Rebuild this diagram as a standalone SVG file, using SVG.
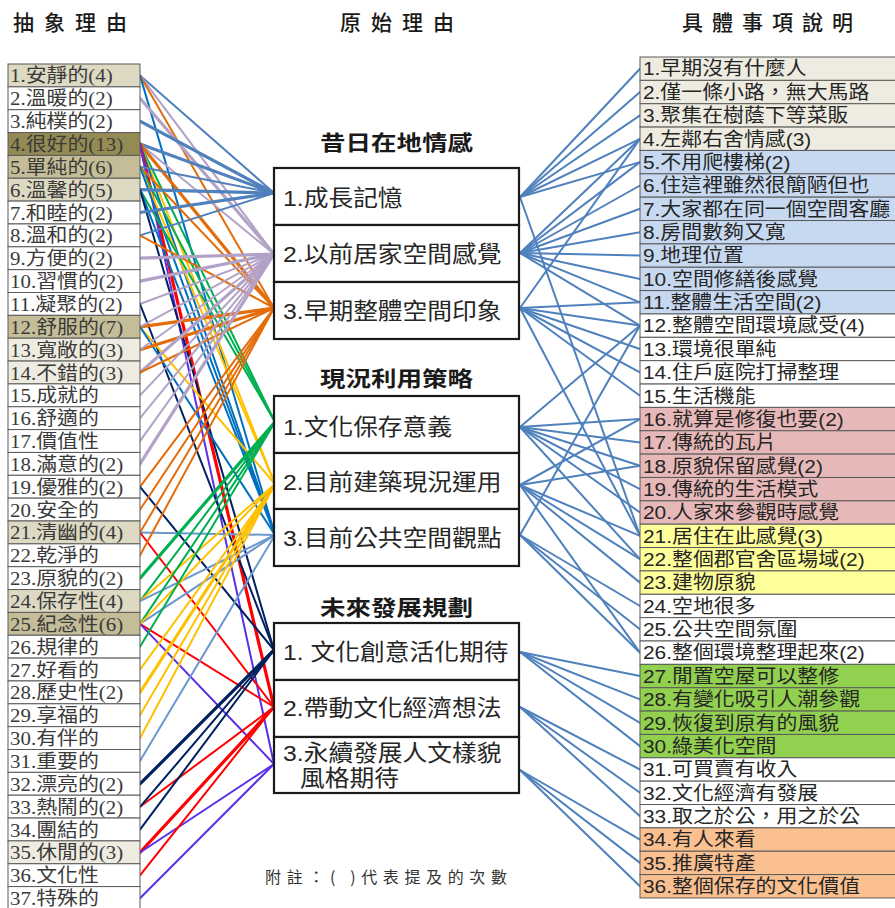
<svg xmlns="http://www.w3.org/2000/svg" width="895" height="908" viewBox="0 0 895 908">
<style>
.bg{fill:#fff}
#connectors line{stroke-width:2;fill:none;stroke-linecap:round}
#connectors line.t{stroke-width:3.2}
.a{stroke:#4F81BD}.b{stroke:#B3A2C7}.c{stroke:#E46C0A}.d{stroke:#00B050}.e{stroke:#FFC000}
.f{stroke:#0070C0}.f2{stroke:#6A97CF}.g{stroke:#002060}.h{stroke:#FF0000}.i{stroke:#5B2FE8}.r{stroke:#4F81BD}
.cell{stroke:#5a5a5a;stroke-width:1}
.lt{font-family:"Liberation Serif","Noto Sans CJK TC",serif;font-size:19px;fill:#3a3a3a}
.rt{font-family:"Liberation Sans","Noto Sans CJK TC",sans-serif;font-size:19px;fill:#262626}
.mt{font-family:"Liberation Sans","Noto Sans CJK TC",sans-serif;font-size:22.5px;fill:#262626}
.box{fill:#fff;stroke:#1a1a1a;stroke-width:2.2}
.hd{font-family:"Noto Sans CJK TC",sans-serif;font-size:21px;font-weight:500;fill:#1a1a1a}
.gt{font-family:"Noto Sans CJK TC",sans-serif;font-size:21px;font-weight:bold;fill:#1a1a1a}
.note{font-family:"Noto Sans CJK TC",sans-serif;font-size:16px;fill:#333}
.w{fill:#FFFFFF}.l1{fill:#DDD9C3}.l2{fill:#C4BD97}.l3{fill:#948A54}.l0{fill:#EEECE1}
.p1{fill:#EEECE1}.p2{fill:#C6D9F1}.p3{fill:#E6B9B8}.p4{fill:#FFFF99}.p5{fill:#92D050}.p6{fill:#FAC090}
</style>
<rect class="bg" x="0" y="0" width="895" height="908"/>

<g id="headings">
<text class="hd" x="13" y="30" textLength="114" lengthAdjust="spacing">抽象理由</text>
<text class="hd" x="340" y="30" textLength="114" lengthAdjust="spacing">原始理由</text>
<text class="hd" x="682" y="30" textLength="171" lengthAdjust="spacing">具體事項說明</text>
<text class="gt" x="320" y="150" textLength="153" lengthAdjust="spacingAndGlyphs">昔日在地情感</text>
<text class="gt" x="320" y="386" textLength="153" lengthAdjust="spacingAndGlyphs">現況利用策略</text>
<text class="gt" x="320" y="615" textLength="153" lengthAdjust="spacingAndGlyphs">未來發展規劃</text>
<text class="note" x="265" y="883" textLength="242" lengthAdjust="spacing">附註：( )代表提及的次數</text>
</g>

<g id="connectors">
<line class="a" x1="140" y1="75.4" x2="274" y2="193"/>
<line class="b" x1="140" y1="75.4" x2="274" y2="254"/>
<line class="c" x1="140" y1="75.4" x2="274" y2="308"/>
<line class="f" x1="140" y1="75.4" x2="275" y2="535"/>
<line class="b t" x1="140" y1="98.3" x2="274" y2="254"/>
<line class="a t" x1="140" y1="121.1" x2="274" y2="193"/>
<line class="a t" x1="140" y1="144" x2="274" y2="193"/>
<line class="b" x1="140" y1="144" x2="274" y2="254"/>
<line class="c t" x1="140" y1="144" x2="274" y2="308"/>
<line class="d" x1="140" y1="144" x2="275" y2="422"/>
<line class="e" x1="140" y1="144" x2="275" y2="484"/>
<line class="f" x1="140" y1="144" x2="275" y2="535"/>
<line class="h t" x1="140" y1="144" x2="274" y2="707"/>
<line class="i" x1="140" y1="144" x2="274" y2="764"/>
<line class="a" x1="140" y1="166.8" x2="274" y2="193"/>
<line class="c" x1="140" y1="166.8" x2="274" y2="308"/>
<line class="d" x1="140" y1="166.8" x2="275" y2="422"/>
<line class="e" x1="140" y1="166.8" x2="275" y2="484"/>
<line class="f" x1="140" y1="166.8" x2="275" y2="535"/>
<line class="a t" x1="140" y1="189.7" x2="274" y2="193"/>
<line class="d" x1="140" y1="189.7" x2="275" y2="422"/>
<line class="f" x1="140" y1="189.7" x2="275" y2="535"/>
<line class="g" x1="140" y1="189.7" x2="274" y2="650"/>
<line class="a t" x1="140" y1="212.5" x2="274" y2="193"/>
<line class="a" x1="140" y1="235.4" x2="274" y2="193"/>
<line class="c" x1="140" y1="235.4" x2="274" y2="308"/>
<line class="b t" x1="140" y1="258.2" x2="274" y2="254"/>
<line class="b t" x1="140" y1="281.1" x2="274" y2="254"/>
<line class="b" x1="140" y1="304" x2="274" y2="254"/>
<line class="g" x1="140" y1="304" x2="274" y2="650"/>
<line class="c t" x1="140" y1="326.8" x2="274" y2="308"/>
<line class="b" x1="140" y1="326.8" x2="274" y2="254"/>
<line class="e" x1="140" y1="326.8" x2="275" y2="484"/>
<line class="f" x1="140" y1="326.8" x2="275" y2="535"/>
<line class="c t" x1="140" y1="349.7" x2="274" y2="308"/>
<line class="b" x1="140" y1="349.7" x2="274" y2="254"/>
<line class="b t" x1="140" y1="372.5" x2="274" y2="254"/>
<line class="c" x1="140" y1="372.5" x2="274" y2="308"/>
<line class="b" x1="140" y1="395.4" x2="274" y2="254"/>
<line class="b" x1="140" y1="418.2" x2="274" y2="254"/>
<line class="b" x1="140" y1="441.1" x2="274" y2="254"/>
<line class="b t" x1="140" y1="463.9" x2="274" y2="254"/>
<line class="c" x1="140" y1="486.8" x2="274" y2="308"/>
<line class="g" x1="140" y1="486.8" x2="274" y2="650"/>
<line class="c" x1="140" y1="509.7" x2="274" y2="308"/>
<line class="f2" x1="140" y1="532.5" x2="275" y2="535"/>
<line class="h" x1="140" y1="532.5" x2="274" y2="707"/>
<line class="c" x1="140" y1="532.5" x2="274" y2="308"/>
<line class="c" x1="140" y1="555.4" x2="274" y2="308"/>
<line class="d t" x1="140" y1="578.2" x2="275" y2="422"/>
<line class="d" x1="140" y1="601.1" x2="275" y2="422"/>
<line class="e" x1="140" y1="601.1" x2="275" y2="484"/>
<line class="f2" x1="140" y1="601.1" x2="275" y2="535"/>
<line class="f2" x1="140" y1="623.9" x2="275" y2="535"/>
<line class="d" x1="140" y1="623.9" x2="275" y2="422"/>
<line class="h" x1="140" y1="623.9" x2="274" y2="707"/>
<line class="i" x1="140" y1="623.9" x2="274" y2="764"/>
<line class="e" x1="140" y1="623.9" x2="275" y2="484"/>
<line class="d" x1="140" y1="646.8" x2="275" y2="422"/>
<line class="e" x1="140" y1="669.6" x2="275" y2="484"/>
<line class="e t" x1="140" y1="692.5" x2="275" y2="484"/>
<line class="e" x1="140" y1="715.3" x2="275" y2="484"/>
<line class="e" x1="140" y1="738.2" x2="275" y2="484"/>
<line class="f2" x1="140" y1="761.1" x2="275" y2="535"/>
<line class="g t" x1="140" y1="783.9" x2="274" y2="650"/>
<line class="h" x1="140" y1="806.8" x2="274" y2="707"/>
<line class="g" x1="140" y1="806.8" x2="274" y2="650"/>
<line class="g" x1="140" y1="829.6" x2="274" y2="650"/>
<line class="h t" x1="140" y1="852.5" x2="274" y2="707"/>
<line class="i" x1="140" y1="852.5" x2="274" y2="764"/>
<line class="h" x1="140" y1="875.3" x2="274" y2="707"/>
<line class="i" x1="140" y1="898.2" x2="274" y2="764"/>

<line class="r" x1="520" y1="197" x2="640" y2="68.7"/>
<line class="r" x1="520" y1="197" x2="640" y2="92"/>
<line class="r" x1="520" y1="197" x2="640" y2="115.4"/>
<line class="r" x1="520" y1="197" x2="640" y2="138.8"/>
<line class="r" x1="520" y1="197" x2="640" y2="162.1"/>
<line class="r" x1="520" y1="197" x2="640" y2="535.9"/>
<line class="r" x1="520" y1="253" x2="640" y2="138.8"/>
<line class="r" x1="520" y1="253" x2="640" y2="162.1"/>
<line class="r" x1="520" y1="253" x2="640" y2="185.5"/>
<line class="r" x1="520" y1="253" x2="640" y2="208.8"/>
<line class="r" x1="520" y1="253" x2="640" y2="232.2"/>
<line class="r" x1="520" y1="253" x2="640" y2="255.6"/>
<line class="r" x1="520" y1="253" x2="640" y2="278.9"/>
<line class="r" x1="520" y1="253" x2="640" y2="302.3"/>
<line class="r" x1="520" y1="253" x2="640" y2="325.6"/>
<line class="r" x1="520" y1="308" x2="640" y2="138.8"/>
<line class="r" x1="520" y1="308" x2="640" y2="302.3"/>
<line class="r" x1="520" y1="308" x2="640" y2="325.6"/>
<line class="r" x1="520" y1="308" x2="640" y2="349"/>
<line class="r" x1="520" y1="308" x2="640" y2="372.4"/>
<line class="r" x1="520" y1="308" x2="640" y2="395.7"/>
<line class="r" x1="520" y1="308" x2="640" y2="535.9"/>
<line class="r" x1="520" y1="427" x2="640" y2="325.6"/>
<line class="r" x1="520" y1="427" x2="640" y2="419.1"/>
<line class="r" x1="520" y1="427" x2="640" y2="442.4"/>
<line class="r" x1="520" y1="427" x2="640" y2="465.8"/>
<line class="r" x1="520" y1="427" x2="640" y2="489.2"/>
<line class="r" x1="520" y1="427" x2="640" y2="512.5"/>
<line class="r" x1="520" y1="427" x2="640" y2="559.2"/>
<line class="r" x1="520" y1="485" x2="640" y2="419.1"/>
<line class="r" x1="520" y1="485" x2="640" y2="465.8"/>
<line class="r" x1="520" y1="485" x2="640" y2="535.9"/>
<line class="r" x1="520" y1="485" x2="640" y2="559.2"/>
<line class="r" x1="520" y1="485" x2="640" y2="582.6"/>
<line class="r" x1="520" y1="485" x2="640" y2="652.7"/>
<line class="r" x1="520" y1="535" x2="640" y2="325.6"/>
<line class="r" x1="520" y1="535" x2="640" y2="606"/>
<line class="r" x1="520" y1="535" x2="640" y2="629.3"/>
<line class="r" x1="520" y1="535" x2="640" y2="652.7"/>
<line class="r" x1="520" y1="652" x2="640" y2="676"/>
<line class="r" x1="520" y1="652" x2="640" y2="699.4"/>
<line class="r" x1="520" y1="652" x2="640" y2="722.8"/>
<line class="r" x1="520" y1="652" x2="640" y2="746.1"/>
<line class="r" x1="520" y1="707" x2="640" y2="769.5"/>
<line class="r" x1="520" y1="707" x2="640" y2="792.8"/>
<line class="r" x1="520" y1="707" x2="640" y2="816.2"/>
<line class="r" x1="520" y1="770" x2="640" y2="839.6"/>
<line class="r" x1="520" y1="770" x2="640" y2="862.9"/>
<line class="r" x1="520" y1="770" x2="640" y2="886.3"/>
</g>

<g id="abstract">
<g id="a1"><rect class="cell l1" x="8" y="64" width="132" height="22.85"/><text class="lt" x="9.1" y="82.5" transform="scale(1.1,1)">1.安靜的(4)</text></g>
<g id="a2"><rect class="cell w" x="8" y="86.85" width="132" height="22.85"/><text class="lt" x="9.1" y="105.35" transform="scale(1.1,1)">2.溫暖的(2)</text></g>
<g id="a3"><rect class="cell w" x="8" y="109.7" width="132" height="22.85"/><text class="lt" x="9.1" y="128.2" transform="scale(1.1,1)">3.純樸的(2)</text></g>
<g id="a4"><rect class="cell l3" x="8" y="132.55" width="132" height="22.85"/><text class="lt" x="9.1" y="151.05" transform="scale(1.1,1)">4.很好的(13)</text></g>
<g id="a5"><rect class="cell l2" x="8" y="155.4" width="132" height="22.85"/><text class="lt" x="9.1" y="173.9" transform="scale(1.1,1)">5.單純的(6)</text></g>
<g id="a6"><rect class="cell l1" x="8" y="178.25" width="132" height="22.85"/><text class="lt" x="9.1" y="196.75" transform="scale(1.1,1)">6.溫馨的(5)</text></g>
<g id="a7"><rect class="cell w" x="8" y="201.1" width="132" height="22.85"/><text class="lt" x="9.1" y="219.6" transform="scale(1.1,1)">7.和睦的(2)</text></g>
<g id="a8"><rect class="cell w" x="8" y="223.95" width="132" height="22.85"/><text class="lt" x="9.1" y="242.45" transform="scale(1.1,1)">8.溫和的(2)</text></g>
<g id="a9"><rect class="cell w" x="8" y="246.8" width="132" height="22.85"/><text class="lt" x="9.1" y="265.3" transform="scale(1.1,1)">9.方便的(2)</text></g>
<g id="a10"><rect class="cell w" x="8" y="269.65" width="132" height="22.85"/><text class="lt" x="9.1" y="288.15" transform="scale(1.1,1)">10.習慣的(2)</text></g>
<g id="a11"><rect class="cell w" x="8" y="292.5" width="132" height="22.85"/><text class="lt" x="9.1" y="311" transform="scale(1.1,1)">11.凝聚的(2)</text></g>
<g id="a12"><rect class="cell l2" x="8" y="315.35" width="132" height="22.85"/><text class="lt" x="9.1" y="333.85" transform="scale(1.1,1)">12.舒服的(7)</text></g>
<g id="a13"><rect class="cell l0" x="8" y="338.2" width="132" height="22.85"/><text class="lt" x="9.1" y="356.7" transform="scale(1.1,1)">13.寬敞的(3)</text></g>
<g id="a14"><rect class="cell l0" x="8" y="361.05" width="132" height="22.85"/><text class="lt" x="9.1" y="379.55" transform="scale(1.1,1)">14.不錯的(3)</text></g>
<g id="a15"><rect class="cell w" x="8" y="383.9" width="132" height="22.85"/><text class="lt" x="9.1" y="402.4" transform="scale(1.1,1)">15.成就的</text></g>
<g id="a16"><rect class="cell w" x="8" y="406.75" width="132" height="22.85"/><text class="lt" x="9.1" y="425.25" transform="scale(1.1,1)">16.舒適的</text></g>
<g id="a17"><rect class="cell w" x="8" y="429.6" width="132" height="22.85"/><text class="lt" x="9.1" y="448.1" transform="scale(1.1,1)">17.價值性</text></g>
<g id="a18"><rect class="cell w" x="8" y="452.45" width="132" height="22.85"/><text class="lt" x="9.1" y="470.95" transform="scale(1.1,1)">18.滿意的(2)</text></g>
<g id="a19"><rect class="cell w" x="8" y="475.3" width="132" height="22.85"/><text class="lt" x="9.1" y="493.8" transform="scale(1.1,1)">19.優雅的(2)</text></g>
<g id="a20"><rect class="cell w" x="8" y="498.15" width="132" height="22.85"/><text class="lt" x="9.1" y="516.65" transform="scale(1.1,1)">20.安全的</text></g>
<g id="a21"><rect class="cell l1" x="8" y="521" width="132" height="22.85"/><text class="lt" x="9.1" y="539.5" transform="scale(1.1,1)">21.清幽的(4)</text></g>
<g id="a22"><rect class="cell w" x="8" y="543.85" width="132" height="22.85"/><text class="lt" x="9.1" y="562.35" transform="scale(1.1,1)">22.乾淨的</text></g>
<g id="a23"><rect class="cell w" x="8" y="566.7" width="132" height="22.85"/><text class="lt" x="9.1" y="585.2" transform="scale(1.1,1)">23.原貌的(2)</text></g>
<g id="a24"><rect class="cell l1" x="8" y="589.55" width="132" height="22.85"/><text class="lt" x="9.1" y="608.05" transform="scale(1.1,1)">24.保存性(4)</text></g>
<g id="a25"><rect class="cell l2" x="8" y="612.4" width="132" height="22.85"/><text class="lt" x="9.1" y="630.9" transform="scale(1.1,1)">25.紀念性(6)</text></g>
<g id="a26"><rect class="cell w" x="8" y="635.25" width="132" height="22.85"/><text class="lt" x="9.1" y="653.75" transform="scale(1.1,1)">26.規律的</text></g>
<g id="a27"><rect class="cell w" x="8" y="658.1" width="132" height="22.85"/><text class="lt" x="9.1" y="676.6" transform="scale(1.1,1)">27.好看的</text></g>
<g id="a28"><rect class="cell w" x="8" y="680.95" width="132" height="22.85"/><text class="lt" x="9.1" y="699.45" transform="scale(1.1,1)">28.歷史性(2)</text></g>
<g id="a29"><rect class="cell w" x="8" y="703.8" width="132" height="22.85"/><text class="lt" x="9.1" y="722.3" transform="scale(1.1,1)">29.享福的</text></g>
<g id="a30"><rect class="cell w" x="8" y="726.65" width="132" height="22.85"/><text class="lt" x="9.1" y="745.15" transform="scale(1.1,1)">30.有伴的</text></g>
<g id="a31"><rect class="cell w" x="8" y="749.5" width="132" height="22.85"/><text class="lt" x="9.1" y="768" transform="scale(1.1,1)">31.重要的</text></g>
<g id="a32"><rect class="cell w" x="8" y="772.35" width="132" height="22.85"/><text class="lt" x="9.1" y="790.85" transform="scale(1.1,1)">32.漂亮的(2)</text></g>
<g id="a33"><rect class="cell w" x="8" y="795.2" width="132" height="22.85"/><text class="lt" x="9.1" y="813.7" transform="scale(1.1,1)">33.熱鬧的(2)</text></g>
<g id="a34"><rect class="cell w" x="8" y="818.05" width="132" height="22.85"/><text class="lt" x="9.1" y="836.55" transform="scale(1.1,1)">34.團結的</text></g>
<g id="a35"><rect class="cell l0" x="8" y="840.9" width="132" height="22.85"/><text class="lt" x="9.1" y="859.4" transform="scale(1.1,1)">35.休閒的(3)</text></g>
<g id="a36"><rect class="cell w" x="8" y="863.75" width="132" height="22.85"/><text class="lt" x="9.1" y="882.25" transform="scale(1.1,1)">36.文化性</text></g>
<g id="a37"><rect class="cell w" x="8" y="886.6" width="132" height="22.85"/><text class="lt" x="9.1" y="905.1" transform="scale(1.1,1)">37.特殊的</text></g>
</g>

<g id="original">
<g id="m11"><rect class="box" x="274" y="168" width="245" height="57"/><text class="mt" x="257.3" y="206" transform="scale(1.1,1)">1.成長記憶</text></g>
<g id="m12"><rect class="box" x="274" y="225" width="245" height="57"/><text class="mt" x="257.3" y="262" transform="scale(1.1,1)">2.以前居家空間感覺</text></g>
<g id="m13"><rect class="box" x="274" y="282" width="245" height="57"/><text class="mt" x="257.3" y="319" transform="scale(1.1,1)">3.早期整體空間印象</text></g>
<g id="m21"><rect class="box" x="274" y="396" width="245" height="57"/><text class="mt" x="257.3" y="435" transform="scale(1.1,1)">1.文化保存意義</text></g>
<g id="m22"><rect class="box" x="274" y="453" width="245" height="56"/><text class="mt" x="257.3" y="490" transform="scale(1.1,1)">2.目前建築現況運用</text></g>
<g id="m23"><rect class="box" x="274" y="509" width="245" height="57"/><text class="mt" x="257.3" y="546" transform="scale(1.1,1)">3.目前公共空間觀點</text></g>
<g id="m31"><rect class="box" x="274" y="623" width="245" height="57"/><text class="mt" x="257.3" y="660" transform="scale(1.1,1)">1. 文化創意活化期待</text></g>
<g id="m32"><rect class="box" x="274" y="680" width="245" height="57"/><text class="mt" x="257.3" y="716" transform="scale(1.1,1)">2.帶動文化經濟想法</text></g>
<g id="m33"><rect class="box" x="274" y="737" width="245" height="56"/><text class="mt" x="257.3" y="761" transform="scale(1.1,1)">3.永續發展人文樣貌</text><text class="mt" x="272.7" y="786" transform="scale(1.1,1)">風格期待</text></g>
</g>

<g id="concrete">
<g id="c1"><rect class="cell p1" x="640" y="57" width="262" height="23.36"/><text class="rt" x="584.5" y="75.5" transform="scale(1.1,1)">1.早期沒有什麼人</text></g>
<g id="c2"><rect class="cell p1" x="640" y="80.36" width="262" height="23.36"/><text class="rt" x="584.5" y="98.86" transform="scale(1.1,1)">2.僅一條小路，無大馬路</text></g>
<g id="c3"><rect class="cell p1" x="640" y="103.72" width="262" height="23.36"/><text class="rt" x="584.5" y="122.22" transform="scale(1.1,1)">3.聚集在樹蔭下等菜販</text></g>
<g id="c4"><rect class="cell p1" x="640" y="127.08" width="262" height="23.36"/><text class="rt" x="584.5" y="145.58" transform="scale(1.1,1)">4.左鄰右舍情感(3)</text></g>
<g id="c5"><rect class="cell p2" x="640" y="150.44" width="262" height="23.36"/><text class="rt" x="584.5" y="168.94" transform="scale(1.1,1)">5.不用爬樓梯(2)</text></g>
<g id="c6"><rect class="cell p2" x="640" y="173.8" width="262" height="23.36"/><text class="rt" x="584.5" y="192.3" transform="scale(1.1,1)">6.住這裡雖然很簡陋但也</text></g>
<g id="c7"><rect class="cell p2" x="640" y="197.16" width="262" height="23.36"/><text class="rt" x="584.5" y="215.66" transform="scale(1.1,1)">7.大家都在同一個空間客廳</text></g>
<g id="c8"><rect class="cell p2" x="640" y="220.52" width="262" height="23.36"/><text class="rt" x="584.5" y="239.02" transform="scale(1.1,1)">8.房間數夠又寬</text></g>
<g id="c9"><rect class="cell p2" x="640" y="243.88" width="262" height="23.36"/><text class="rt" x="584.5" y="262.38" transform="scale(1.1,1)">9.地理位置</text></g>
<g id="c10"><rect class="cell p2" x="640" y="267.24" width="262" height="23.36"/><text class="rt" x="584.5" y="285.74" transform="scale(1.1,1)">10.空間修繕後感覺</text></g>
<g id="c11"><rect class="cell p2" x="640" y="290.6" width="262" height="23.36"/><text class="rt" x="584.5" y="309.1" transform="scale(1.1,1)">11.整體生活空間(2)</text></g>
<g id="c12"><rect class="cell w" x="640" y="313.96" width="262" height="23.36"/><text class="rt" x="584.5" y="332.46" transform="scale(1.1,1)">12.整體空間環境感受(4)</text></g>
<g id="c13"><rect class="cell w" x="640" y="337.32" width="262" height="23.36"/><text class="rt" x="584.5" y="355.82" transform="scale(1.1,1)">13.環境很單純</text></g>
<g id="c14"><rect class="cell w" x="640" y="360.68" width="262" height="23.36"/><text class="rt" x="584.5" y="379.18" transform="scale(1.1,1)">14.住戶庭院打掃整理</text></g>
<g id="c15"><rect class="cell w" x="640" y="384.04" width="262" height="23.36"/><text class="rt" x="584.5" y="402.54" transform="scale(1.1,1)">15.生活機能</text></g>
<g id="c16"><rect class="cell p3" x="640" y="407.4" width="262" height="23.36"/><text class="rt" x="584.5" y="425.9" transform="scale(1.1,1)">16.就算是修復也要(2)</text></g>
<g id="c17"><rect class="cell p3" x="640" y="430.76" width="262" height="23.36"/><text class="rt" x="584.5" y="449.26" transform="scale(1.1,1)">17.傳統的瓦片</text></g>
<g id="c18"><rect class="cell p3" x="640" y="454.12" width="262" height="23.36"/><text class="rt" x="584.5" y="472.62" transform="scale(1.1,1)">18.原貌保留感覺(2)</text></g>
<g id="c19"><rect class="cell p3" x="640" y="477.48" width="262" height="23.36"/><text class="rt" x="584.5" y="495.98" transform="scale(1.1,1)">19.傳統的生活模式</text></g>
<g id="c20"><rect class="cell p3" x="640" y="500.84" width="262" height="23.36"/><text class="rt" x="584.5" y="519.34" transform="scale(1.1,1)">20.人家來參觀時感覺</text></g>
<g id="c21"><rect class="cell p4" x="640" y="524.2" width="262" height="23.36"/><text class="rt" x="584.5" y="542.7" transform="scale(1.1,1)">21.居住在此感覺(3)</text></g>
<g id="c22"><rect class="cell p4" x="640" y="547.56" width="262" height="23.36"/><text class="rt" x="584.5" y="566.06" transform="scale(1.1,1)">22.整個郡官舍區場域(2)</text></g>
<g id="c23"><rect class="cell p4" x="640" y="570.92" width="262" height="23.36"/><text class="rt" x="584.5" y="589.42" transform="scale(1.1,1)">23.建物原貌</text></g>
<g id="c24"><rect class="cell w" x="640" y="594.28" width="262" height="23.36"/><text class="rt" x="584.5" y="612.78" transform="scale(1.1,1)">24.空地很多</text></g>
<g id="c25"><rect class="cell w" x="640" y="617.64" width="262" height="23.36"/><text class="rt" x="584.5" y="636.14" transform="scale(1.1,1)">25.公共空間氛圍</text></g>
<g id="c26"><rect class="cell w" x="640" y="641" width="262" height="23.36"/><text class="rt" x="584.5" y="659.5" transform="scale(1.1,1)">26.整個環境整理起來(2)</text></g>
<g id="c27"><rect class="cell p5" x="640" y="664.36" width="262" height="23.36"/><text class="rt" x="584.5" y="682.86" transform="scale(1.1,1)">27.閒置空屋可以整修</text></g>
<g id="c28"><rect class="cell p5" x="640" y="687.72" width="262" height="23.36"/><text class="rt" x="584.5" y="706.22" transform="scale(1.1,1)">28.有變化吸引人潮參觀</text></g>
<g id="c29"><rect class="cell p5" x="640" y="711.08" width="262" height="23.36"/><text class="rt" x="584.5" y="729.58" transform="scale(1.1,1)">29.恢復到原有的風貌</text></g>
<g id="c30"><rect class="cell p5" x="640" y="734.44" width="262" height="23.36"/><text class="rt" x="584.5" y="752.94" transform="scale(1.1,1)">30.綠美化空間</text></g>
<g id="c31"><rect class="cell w" x="640" y="757.8" width="262" height="23.36"/><text class="rt" x="584.5" y="776.3" transform="scale(1.1,1)">31.可買賣有收入</text></g>
<g id="c32"><rect class="cell w" x="640" y="781.16" width="262" height="23.36"/><text class="rt" x="584.5" y="799.66" transform="scale(1.1,1)">32.文化經濟有發展</text></g>
<g id="c33"><rect class="cell w" x="640" y="804.52" width="262" height="23.36"/><text class="rt" x="584.5" y="823.02" transform="scale(1.1,1)">33.取之於公，用之於公</text></g>
<g id="c34"><rect class="cell p6" x="640" y="827.88" width="262" height="23.36"/><text class="rt" x="584.5" y="846.38" transform="scale(1.1,1)">34.有人來看</text></g>
<g id="c35"><rect class="cell p6" x="640" y="851.24" width="262" height="23.36"/><text class="rt" x="584.5" y="869.74" transform="scale(1.1,1)">35.推廣特產</text></g>
<g id="c36"><rect class="cell p6" x="640" y="874.6" width="262" height="23.36"/><text class="rt" x="584.5" y="893.1" transform="scale(1.1,1)">36.整個保存的文化價值</text></g>
</g>
</svg>
